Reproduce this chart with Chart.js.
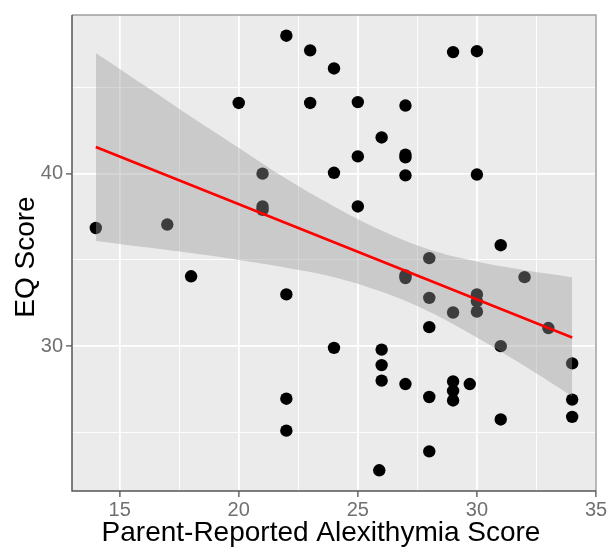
<!DOCTYPE html>
<html>
<head>
<meta charset="utf-8">
<script src="https://cdn.jsdelivr.net/npm/chart.js@4.4.0/dist/chart.umd.min.js"></script>
<style>
  html, body { margin: 0; padding: 0; background: #fff; }
  #wrap { width: 610px; height: 549px; }
</style>
</head>
<body>
<div id="wrap"><canvas id="chart" width="610" height="549"></canvas></div>
<script>
// participants: parent-reported alexithymia vs EQ score
const alexScore = [14, 17, 18, 20, 21, 21, 21, 22, 22, 22, 22, 23, 23, 24, 24, 24,
  25, 25, 25, 26, 26, 26, 26, 25.9, 27, 27, 27, 27, 27, 27, 27,
  28, 28, 28, 28, 28, 29, 29, 29, 29, 29, 29.7,
  30, 30, 30, 30, 30, 31, 31, 31, 32, 33, 34, 34, 34];
const eqScore = [36.85, 37.05, 34.05, 44.1, 40.0, 38.1, 37.9, 48.0, 33.0, 26.95, 25.1, 47.15, 44.1, 46.1, 40.05, 29.9,
  44.15, 41.0, 38.1, 42.1, 29.8, 28.9, 28.0, 22.8, 43.95, 41.1, 40.95, 39.9, 34.1, 33.95, 27.8,
  35.1, 32.8, 31.1, 27.05, 23.9, 47.05, 31.95, 27.95, 27.4, 26.85, 27.8,
  47.1, 39.95, 33.0, 32.6, 32.0, 35.85, 30.0, 25.75, 34.0, 31.05, 29.0, 26.9, 25.9];

// fitted line and its confidence band
const fitX = [14, 34];
const fitY = [41.55, 30.5];
const bandX = [14, 16, 18, 20, 22, 24, 26, 28, 30, 32, 34];
const bandUpper = [47.0, 45.15, 43.3, 41.5, 39.7, 38.1, 36.7, 35.6, 34.9, 34.4, 34.0];
const bandLower = [36.1, 35.75, 35.4, 35.0, 34.55, 34.0, 33.15, 32.0, 30.5, 28.85, 27.1];

const xGrid = [15, 17.5, 20, 22.5, 25, 27.5, 30, 32.5, 35];
const xLabels = [15, 20, 25, 30, 35];
const yGrid = [25, 30, 35, 40, 45];
const yLabels = [30, 40];

const xTitle = 'Parent-Reported Alexithymia Score';
const yTitle = 'EQ Score';

const toXY = (xs, ys) => xs.map((x, i) => ({ x: x, y: ys[i] }));

const tickFont = { family: "'Liberation Sans Narrow', 'Liberation Sans', sans-serif", size: 20 };
const titleFontCss = "28px 'Liberation Sans', Arial, sans-serif";

// grey panel + frame like ggplot, and the axis titles
const panel = {
  id: 'panel',
  beforeDraw(chart) {
    const { ctx, chartArea: a } = chart;
    ctx.save();
    ctx.fillStyle = '#EBEBEB';
    ctx.fillRect(a.left, a.top, a.right - a.left, a.bottom - a.top);
    ctx.restore();
  },
  afterDraw(chart) {
    const { ctx, chartArea: a } = chart;
    ctx.save();
    ctx.lineWidth = 1.5;
    ctx.strokeStyle = '#A0A0A0';
    ctx.beginPath();
    ctx.moveTo(a.left, a.top); ctx.lineTo(a.right, a.top); ctx.lineTo(a.right, a.bottom);
    ctx.stroke();
    ctx.strokeStyle = '#555555';
    ctx.beginPath();
    ctx.moveTo(a.left, a.top); ctx.lineTo(a.left, a.bottom); ctx.lineTo(a.right, a.bottom);
    ctx.stroke();

    // titles (the original sits a bit off the panel centre)
    ctx.fillStyle = '#000000';
    ctx.font = titleFontCss;
    ctx.textAlign = 'center';
    ctx.textBaseline = 'middle';
    ctx.fillText(xTitle, 321, 533);
    ctx.translate(26, 257);
    ctx.rotate(-Math.PI / 2);
    ctx.fillText(yTitle, 0, 0);
    ctx.restore();
  }
};

const isMajor = (list, ctx) => ctx.tick && list.includes(ctx.tick.value);

new Chart(document.getElementById('chart'), {
  type: 'scatter',
  data: {
    datasets: [
      {
        label: 'points',
        data: toXY(alexScore, eqScore),
        backgroundColor: '#000000',
        borderWidth: 0,
        pointRadius: 6.2,
        order: 3
      },
      {
        type: 'line',
        label: 'upper',
        data: toXY(bandX, bandUpper),
        borderWidth: 0,
        borderColor: 'rgba(0,0,0,0)',
        pointRadius: 0,
        tension: 0.4,
        fill: false,
        order: 2
      },
      {
        type: 'line',
        label: 'lower',
        data: toXY(bandX, bandLower),
        borderWidth: 0,
        borderColor: 'rgba(0,0,0,0)',
        backgroundColor: 'rgba(153,153,153,0.4)',
        pointRadius: 0,
        tension: 0.4,
        fill: '-1',
        order: 2
      },
      {
        type: 'line',
        label: 'fit',
        data: toXY(fitX, fitY),
        borderColor: '#FF0000',
        borderWidth: 2.6,
        pointRadius: 0,
        fill: false,
        order: 1
      }
    ]
  },
  options: {
    responsive: false,
    animation: false,
    layout: { padding: { top: 10, right: 14, left: 0, bottom: 0 } },
    plugins: {
      legend: { display: false },
      tooltip: { enabled: false }
    },
    scales: {
      x: {
        type: 'linear',
        min: 13,
        max: 35,
        afterBuildTicks: (scale) => { scale.ticks = xGrid.map(v => ({ value: v })); },
        afterFit: (scale) => { scale.height = 58; },
        border: { display: false },
        grid: {
          color: '#FFFFFF',
          lineWidth: (ctx) => isMajor(xLabels, ctx) ? 1.8 : 0.9,
          tickColor: (ctx) => isMajor(xLabels, ctx) ? '#444444' : 'rgba(0,0,0,0)',
          tickLength: 6,
          tickWidth: 1.2
        },
        ticks: {
          autoSkip: false,
          maxRotation: 0,
          padding: 1,
          color: '#707070',
          font: tickFont,
          callback: (v) => xLabels.includes(v) ? String(v) : ''
        },
        title: { display: false }
      },
      y: {
        type: 'linear',
        min: 21.6,
        max: 49.2,
        afterBuildTicks: (scale) => { scale.ticks = yGrid.map(v => ({ value: v })); },
        afterFit: (scale) => { scale.width = 72; },
        border: { display: false },
        grid: {
          color: '#FFFFFF',
          lineWidth: (ctx) => isMajor(yLabels, ctx) ? 1.8 : 0.9,
          tickColor: (ctx) => isMajor(yLabels, ctx) ? '#444444' : 'rgba(0,0,0,0)',
          tickLength: 6,
          tickWidth: 1.2
        },
        ticks: {
          autoSkip: false,
          padding: 3,
          color: '#707070',
          font: tickFont,
          callback: (v) => yLabels.includes(v) ? String(v) : ''
        },
        title: { display: false }
      }
    }
  },
  plugins: [panel]
});
</script>
</body>
</html>
